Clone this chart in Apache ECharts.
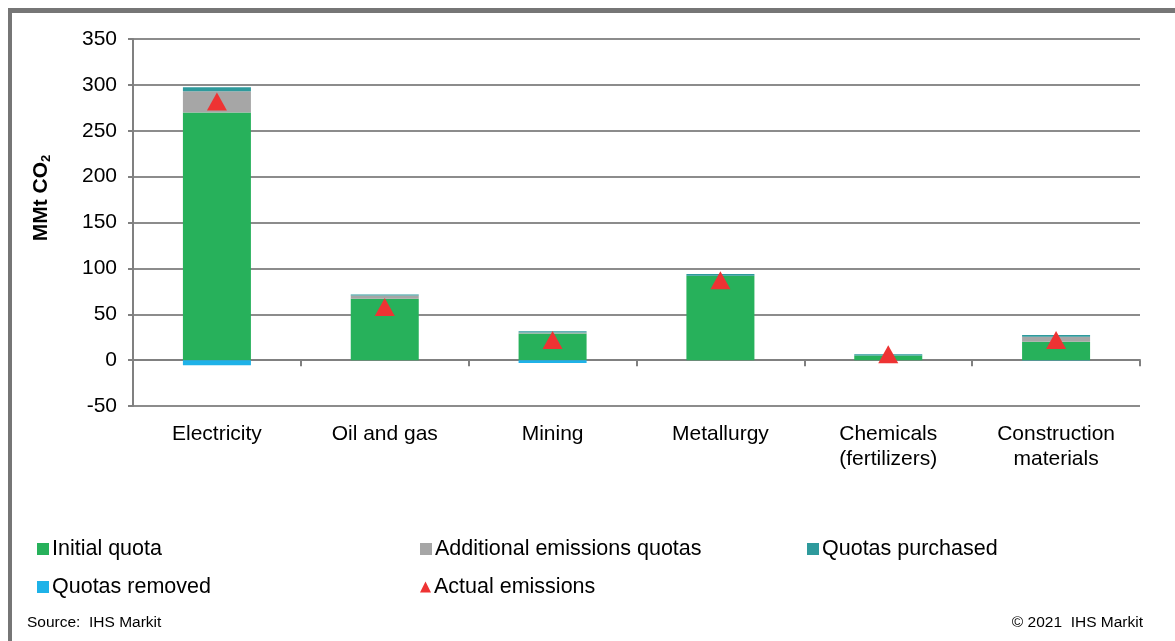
<!DOCTYPE html>
<html>
<head>
<meta charset="utf-8">
<script src="https://cdn.jsdelivr.net/npm/echarts@6/dist/echarts.min.js"></script>
<style>
html,body{margin:0;padding:0;background:#fff;}
#chart{width:1175px;height:641px;}
</style>
</head>
<body>
<div id="chart"></div>
<script>
const categories = ['Electricity', 'Oil and gas', 'Mining', 'Metallurgy', 'Chemicals\n(fertilizers)', 'Construction\nmaterials'];
const initialQuota = [270, 67, 29, 92, 5, 20];
const additionalQuotas = [23, 3.5, 1, 0, 0, 5.5];
const quotasPurchased = [4.5, 1, 1.5, 2, 1.5, 1.8];
const quotasRemoved = [-5.5, 0, -3, 0, 0, -0.5];
const actualEmissions = [282, 58, 22, 87, 6.5, 22];
const yTicks = [-50, 0, 50, 100, 150, 200, 250, 300, 350];

const chart = echarts.init(document.getElementById('chart'));
const font = 'Liberation Sans, Arial, sans-serif';
const colors = {
  initial: '#27B15B',
  additional: '#A6A6A6',
  purchased: '#2E9A9C',
  removed: '#1EB2E8',
  actual: '#EE3333'
};

function legendItem(name, left, top, icon) {
  return {
    data: [{name: name, icon: icon || 'rect'}],
    left: left, top: top,
    itemWidth: icon === 'triangle' ? 11 : 12,
    itemHeight: icon === 'triangle' ? 11 : 12,
    itemGap: 0,
    textStyle: {fontFamily: font, fontSize: 21.5, color: '#000', padding: [0, 0, 0, -2]},
    selectedMode: false
  };
}

chart.setOption({
  animation: false,
  backgroundColor: '#fff',
  grid: {left: 133, right: 35, top: 39, bottom: 235},
  xAxis: [
    {
      type: 'category',
      data: categories,
      axisLine: {onZero: true, lineStyle: {color: '#808080', width: 2}},
      axisTick: {show: true, length: 6, inside: false, lineStyle: {color: '#808080', width: 2}},
      axisLabel: {show: false},
      splitLine: {show: false}
    },
    {
      type: 'category',
      data: categories,
      position: 'bottom',
      axisLine: {show: false},
      axisTick: {show: false},
      axisLabel: {show: true, interval: 0, margin: 16, fontFamily: font, fontSize: 21, color: '#000', lineHeight: 25},
      splitLine: {show: false}
    }
  ],
  yAxis: {
    type: 'value',
    min: yTicks[0],
    max: yTicks[yTicks.length - 1],
    interval: 50,
    axisLine: {show: true, lineStyle: {color: '#808080', width: 2}},
    axisTick: {show: true, length: 5, lineStyle: {color: '#808080', width: 2}},
    axisLabel: {fontFamily: font, fontSize: 21, color: '#000', margin: 16},
    splitLine: {show: true, lineStyle: {color: '#8C8C8C', width: 2}}
  },
  legend: [
    legendItem('Initial quota', 32, 533),
    legendItem('Additional emissions quotas', 415, 533),
    legendItem('Quotas purchased', 802, 533),
    legendItem('Quotas removed', 32, 571),
    legendItem('Actual emissions', 415, 571, 'triangle')
  ],
  series: [
    {name: 'Initial quota', type: 'bar', stack: 'q', data: initialQuota, barWidth: 68, itemStyle: {color: colors.initial}},
    {name: 'Additional emissions quotas', type: 'bar', stack: 'q', data: additionalQuotas, itemStyle: {color: colors.additional}},
    {name: 'Quotas purchased', type: 'bar', stack: 'q', data: quotasPurchased, itemStyle: {color: colors.purchased}},
    {name: 'Quotas removed', type: 'bar', stack: 'q', data: quotasRemoved, itemStyle: {color: colors.removed}},
    {name: 'Actual emissions', type: 'scatter', data: actualEmissions, symbol: 'triangle', symbolSize: [20, 18], itemStyle: {color: colors.actual, opacity: 1}, z: 5}
  ],
  graphic: [
    {type: 'rect', left: 8, top: 8, shape: {width: 4, height: 633}, style: {fill: '#767676'}, silent: true},
    {type: 'rect', left: 8, top: 8, shape: {width: 1167, height: 5}, style: {fill: '#767676'}, silent: true},
    {type: 'text', x: 41, y: 198, rotation: Math.PI / 2, style: {
      text: '{b|MMt CO}{s|2}', align: 'center', verticalAlign: 'middle',
      rich: {
        b: {fontFamily: font, fontSize: 21, fontWeight: 'bold', fill: '#000'},
        s: {fontFamily: font, fontSize: 13, fontWeight: 'bold', fill: '#000', padding: [10, 0, 0, 0]}
      }
    }},
    {type: 'text', left: 27, top: 615, style: {text: 'Source:  IHS Markit', fontFamily: font, fontSize: 15.5, fill: '#000'}},
    {type: 'text', right: 32, top: 615, style: {text: '\u00A9 2021  IHS Markit', fontFamily: font, fontSize: 15.5, fill: '#000'}}
  ]
});
</script>
</body>
</html>
